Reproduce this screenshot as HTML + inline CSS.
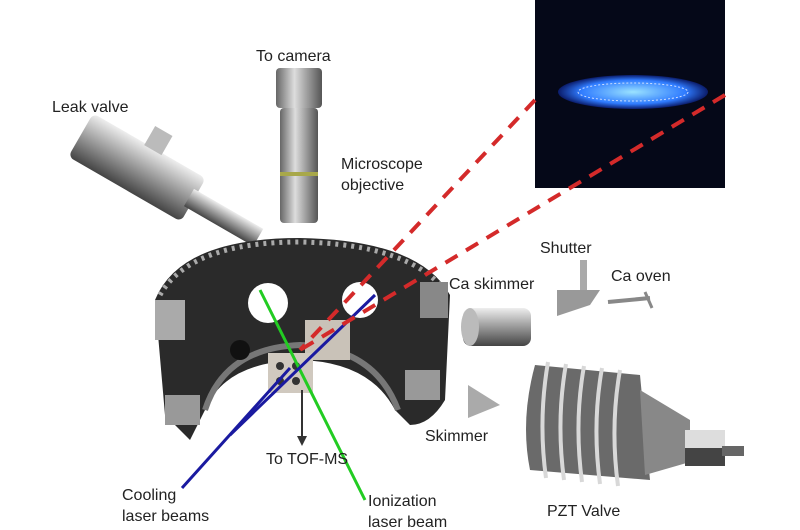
<!DOCTYPE html>
<html><head><style>
html,body{margin:0;padding:0;background:#fff;}
svg{display:block}
text{font-family:"Liberation Sans",sans-serif;font-size:16px;fill:#222}
</style></head><body>
<svg width="800" height="530" viewBox="0 0 800 530" xmlns="http://www.w3.org/2000/svg">
<defs>
<linearGradient id="met" x1="0" y1="0" x2="1" y2="0">
<stop offset="0" stop-color="#666"/><stop offset="0.4" stop-color="#ddd"/><stop offset="1" stop-color="#555"/></linearGradient>
<linearGradient id="met2" x1="0" y1="0" x2="0" y2="1">
<stop offset="0" stop-color="#eee"/><stop offset="0.5" stop-color="#999"/><stop offset="1" stop-color="#444"/></linearGradient>
<radialGradient id="ion" cx="0.5" cy="0.5" r="0.5">
<stop offset="0" stop-color="#9be3ff"/><stop offset="0.7" stop-color="#2f7bff"/><stop offset="1" stop-color="#0b1c6a"/></radialGradient>
</defs>
<rect x="535" y="0" width="190" height="188" fill="#050818"/>
<ellipse cx="633" cy="92" rx="75" ry="17" fill="url(#ion)"/>
<ellipse cx="633" cy="92" rx="55" ry="9" fill="none" stroke="#cdf" stroke-width="1" stroke-dasharray="2 2"/>
<rect x="276" y="68" width="46" height="40" rx="4" fill="url(#met)"/>
<rect x="280" y="108" width="38" height="115" rx="4" fill="url(#met)"/>
<rect x="280" y="172" width="38" height="4" fill="#a8a84a"/>
<text x="256" y="61">To camera</text>
<text x="341" y="169">Microscope</text>
<text x="341" y="190">objective</text>
<text x="52" y="112">Leak valve</text>
<g transform="rotate(30 150 175)">
<rect x="70" y="150" width="130" height="50" rx="6" fill="url(#met2)"/>
<rect x="195" y="165" width="80" height="20" fill="url(#met2)"/>
<rect x="130" y="130" width="20" height="22" fill="#bbb"/>
</g>
<!-- chamber -->
<path d="M155 300 Q180 238 300 238 Q420 240 450 295 L445 400 Q430 425 410 425 L395 410 Q370 362 300 360 Q225 362 205 410 L190 440 L165 415 Z" fill="#2a2a2a"/>
<path d="M160 295 Q190 242 300 242 Q410 244 446 292" fill="none" stroke="#aaa" stroke-width="5" stroke-dasharray="3 5"/>
<path d="M205 410 Q225 348 300 345 Q375 348 398 410" fill="none" stroke="#777" stroke-width="6"/>
<circle cx="268" cy="303" r="20" fill="#fff"/>
<circle cx="360" cy="300" r="18" fill="#fff"/>
<circle cx="240" cy="350" r="10" fill="#111"/>
<rect x="155" y="300" width="30" height="40" fill="#aaa"/>
<rect x="165" y="395" width="35" height="30" fill="#999"/>
<rect x="420" y="282" width="28" height="36" fill="#888"/>
<rect x="405" y="370" width="35" height="30" fill="#999"/>
<rect x="305" y="320" width="45" height="40" fill="#c9c2b8"/>
<rect x="268" y="353" width="45" height="40" fill="#d0c9bf"/>
<circle cx="280" cy="366" r="4" fill="#333"/><circle cx="296" cy="366" r="4" fill="#333"/>
<circle cx="280" cy="381" r="4" fill="#333"/><circle cx="296" cy="381" r="4" fill="#333"/>
<line x1="260" y1="290" x2="365" y2="500" stroke="#22cc22" stroke-width="3"/>
<line x1="375" y1="295" x2="230" y2="435" stroke="#1a1aa0" stroke-width="3"/>
<line x1="290" y1="368" x2="182" y2="488" stroke="#1a1aa0" stroke-width="3"/>
<line x1="535" y1="100" x2="300" y2="350" stroke="#d42a2a" stroke-width="4" stroke-dasharray="14 10"/>
<line x1="725" y1="95" x2="300" y2="350" stroke="#d42a2a" stroke-width="4" stroke-dasharray="14 10"/>
<line x1="302" y1="390" x2="302" y2="440" stroke="#333" stroke-width="2"/>
<path d="M297 436 L302 446 L307 436 Z" fill="#333"/>
<!-- Ca skimmer -->
<rect x="463" y="308" width="68" height="38" rx="8" fill="url(#met2)"/>
<ellipse cx="470" cy="327" rx="9" ry="19" fill="#bbb"/>
<!-- shutter -->
<rect x="580" y="260" width="7" height="30" fill="#aaa"/>
<path d="M557 290 L600 290 L590 305 L557 316 Z" fill="#999"/>
<!-- oven -->
<line x1="608" y1="302" x2="650" y2="298" stroke="#888" stroke-width="4"/>
<line x1="645" y1="292" x2="652" y2="308" stroke="#888" stroke-width="3"/>
<!-- skimmer cone -->
<path d="M468 385 L500 405 L468 418 Z" fill="#aaa"/>
<!-- PZT -->
<path d="M535 365 L640 375 L650 480 L530 470 Q520 420 535 365 Z" fill="#6a6a6a"/>
<g stroke="#d8d8d8" stroke-width="4" fill="none">
<path d="M548 362 Q538 420 546 478"/><path d="M566 364 Q556 420 564 480"/>
<path d="M584 366 Q574 422 582 482"/><path d="M602 368 Q592 424 600 484"/>
<path d="M620 370 Q610 426 618 486"/></g>
<path d="M640 390 L690 420 L690 462 L645 475 Z" fill="#888"/>
<rect x="685" y="430" width="40" height="18" fill="#ddd"/>
<rect x="685" y="448" width="40" height="18" fill="#444"/>
<rect x="722" y="446" width="22" height="10" fill="#666"/>
<text x="540" y="253">Shutter</text>
<text x="449" y="289">Ca skimmer</text>
<text x="611" y="281">Ca oven</text>
<text x="425" y="441">Skimmer</text>
<text x="547" y="516">PZT Valve</text>
<text x="266" y="464">To TOF-MS</text>
<text x="122" y="500">Cooling</text>
<text x="122" y="521">laser beams</text>
<text x="368" y="506">Ionization</text>
<text x="368" y="527">laser beam</text>
</svg>
</body></html>
